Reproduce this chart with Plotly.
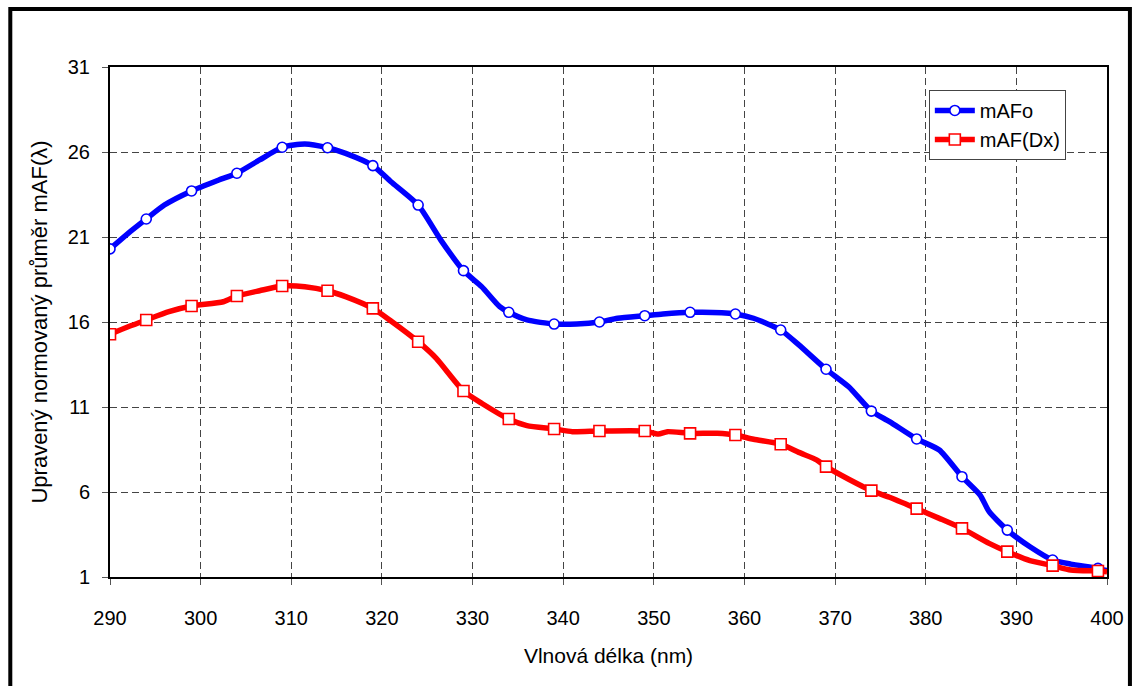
import plotly.graph_objects as go

# ---- data ----
marker_x = [290, 294, 299, 304, 309, 314, 319, 324, 329, 334, 339, 344,
            349, 354, 359, 364, 369, 374, 379, 384, 389, 394, 399]
mafo_marker_y = [20.3, 22.06, 23.71, 24.75, 26.28, 26.25, 25.2, 22.88, 19.02,
                 16.57, 15.88, 16.0, 16.37, 16.57, 16.47, 15.53, 13.22, 10.76,
                 9.12, 6.9, 3.76, 2.0, 1.51]
mafdx_marker_y = [15.28, 16.12, 16.94, 17.53, 18.12, 17.84, 16.8, 14.84, 11.94,
                  10.29, 9.71, 9.59, 9.59, 9.45, 9.35, 8.81, 7.49, 6.08, 5.02,
                  3.86, 2.49, 1.67, 1.35]

mafo_line_x = [290, 292, 294, 296, 299, 302, 304, 306.5, 309, 311.5, 314, 316,
               319, 321, 324, 326.5, 329, 331, 333, 334, 336, 339, 341.5, 344,
               346, 349, 351, 354, 357.5, 359, 361, 364, 366, 369, 371.5, 374,
               376, 379, 381.5, 384, 386, 387, 389, 391.5, 394, 396, 399, 400]
mafo_line_y = [20.3, 21.22, 22.06, 22.88, 23.71, 24.35, 24.75, 25.53, 26.28,
               26.47, 26.25, 25.92, 25.2, 24.25, 22.88, 20.82, 19.02, 18.08,
               16.9, 16.57, 16.12, 15.88, 15.88, 16.0, 16.22, 16.37, 16.47,
               16.57, 16.55, 16.47, 16.22, 15.53, 14.65, 13.22, 12.19, 10.76,
               10.14, 9.12, 8.47, 6.9, 5.82, 4.84, 3.76, 2.78, 2.0, 1.76, 1.51,
               1.37]

mafdx_line_x = [290, 292, 294, 296.5, 299, 302.5, 304, 306.5, 309, 311.5, 314,
                316, 319, 321, 324, 326, 329, 331, 334, 336, 339, 341, 344, 349,
                350.5, 351.5, 354, 357, 359, 361, 364, 366, 368, 369, 371.5, 374,
                376, 379, 381.5, 384, 387, 389, 391.5, 394, 396, 399, 400]
mafdx_line_y = [15.28, 15.72, 16.12, 16.61, 16.94, 17.19, 17.53, 17.84, 18.12,
                18.08, 17.84, 17.49, 16.8, 16.06, 14.84, 13.86, 11.94, 11.22,
                10.29, 9.9, 9.71, 9.55, 9.59, 9.59, 9.41, 9.55, 9.45, 9.45, 9.35,
                9.1, 8.81, 8.33, 7.88, 7.49, 6.75, 6.08, 5.69, 5.02, 4.45, 3.86,
                2.98, 2.49, 1.96, 1.67, 1.41, 1.35, 1.31]

x_ticks = [290, 300, 310, 320, 330, 340, 350, 360, 370, 380, 390, 400]
y_ticks = [1, 6, 11, 16, 21, 26, 31]

BLUE = "#0000FF"
RED = "#FF0000"
FONT = "Liberation Sans, Arial, sans-serif"

fig = go.Figure()

# lines
fig.add_trace(go.Scatter(x=mafo_line_x, y=mafo_line_y, mode="lines",
                         line=dict(color=BLUE, width=5.5, shape="spline", smoothing=0.6),
                         showlegend=False, hoverinfo="skip"))
fig.add_trace(go.Scatter(x=mafdx_line_x, y=mafdx_line_y, mode="lines",
                         line=dict(color=RED, width=5.5, shape="spline", smoothing=0.6),
                         showlegend=False, hoverinfo="skip"))
# markers
fig.add_trace(go.Scatter(x=marker_x, y=mafo_marker_y, mode="markers",
                         marker=dict(symbol="circle", size=10, color="white",
                                     line=dict(color=BLUE, width=1.6)),
                         showlegend=False, name="mAFo"))
fig.add_trace(go.Scatter(x=marker_x, y=mafdx_marker_y, mode="markers",
                         marker=dict(symbol="square", size=11, color="white",
                                     line=dict(color=RED, width=1.6)),
                         showlegend=False, name="mAF(Dx)"))
# legend entries
fig.add_trace(go.Scatter(x=[None], y=[None], mode="lines+markers", name="mAFo",
                         line=dict(color=BLUE, width=5.5),
                         marker=dict(symbol="circle", size=10, color="white",
                                     line=dict(color=BLUE, width=1.6))))
fig.add_trace(go.Scatter(x=[None], y=[None], mode="lines+markers", name="mAF(Dx)",
                         line=dict(color=RED, width=5.5),
                         marker=dict(symbol="square", size=11, color="white",
                                     line=dict(color=RED, width=1.6))))

fig.update_xaxes(range=[290, 400], tickvals=x_ticks, ticktext=[str(v) for v in x_ticks],
                 showgrid=True, gridcolor="#444444", griddash="7px,4px", gridwidth=1,
                 showline=True, linecolor="black", linewidth=2, mirror=True,
                 ticks="outside", ticklen=6, tickcolor="#555555",
                 ticklabelstandoff=16, zeroline=False,
                 tickfont=dict(family=FONT, size=20, color="black"),
                 title=dict(text="Vlnová délka (nm)", standoff=20,
                            font=dict(family=FONT, size=21, color="black")))
fig.update_yaxes(range=[1, 31], tickvals=y_ticks, ticktext=[str(v) for v in y_ticks],
                 showgrid=True, gridcolor="#444444", griddash="7px,4px", gridwidth=1,
                 showline=True, linecolor="black", linewidth=2, mirror=True,
                 ticks="outside", ticklen=6, tickcolor="#555555",
                 ticklabelstandoff=8, zeroline=False,
                 tickfont=dict(family=FONT, size=20, color="black"),
                 title=dict(text="Upravený normovaný průměr mAF(λ)", standoff=14,
                            font=dict(family=FONT, size=22, color="black")))

fig.update_layout(
    width=1136, height=686,
    margin=dict(l=110, r=26, t=67, b=109),
    paper_bgcolor="white", plot_bgcolor="white",
    font=dict(family=FONT, color="black"),
    legend=dict(x=0.89, y=0.955, xanchor="center", yanchor="top",
                bgcolor="white", bordercolor="#444444", borderwidth=1,
                font=dict(family=FONT, size=20, color="black"),
                itemwidth=40, tracegroupgap=0),
    shapes=[dict(type="rect", xref="paper", yref="paper",
                 x0=-0.1, x1=1.023, y0=-0.3, y1=1.1137,
                 line=dict(color="black", width=4), fillcolor="rgba(0,0,0,0)",
                 layer="above")],
)

fig.write_html("out.html")
